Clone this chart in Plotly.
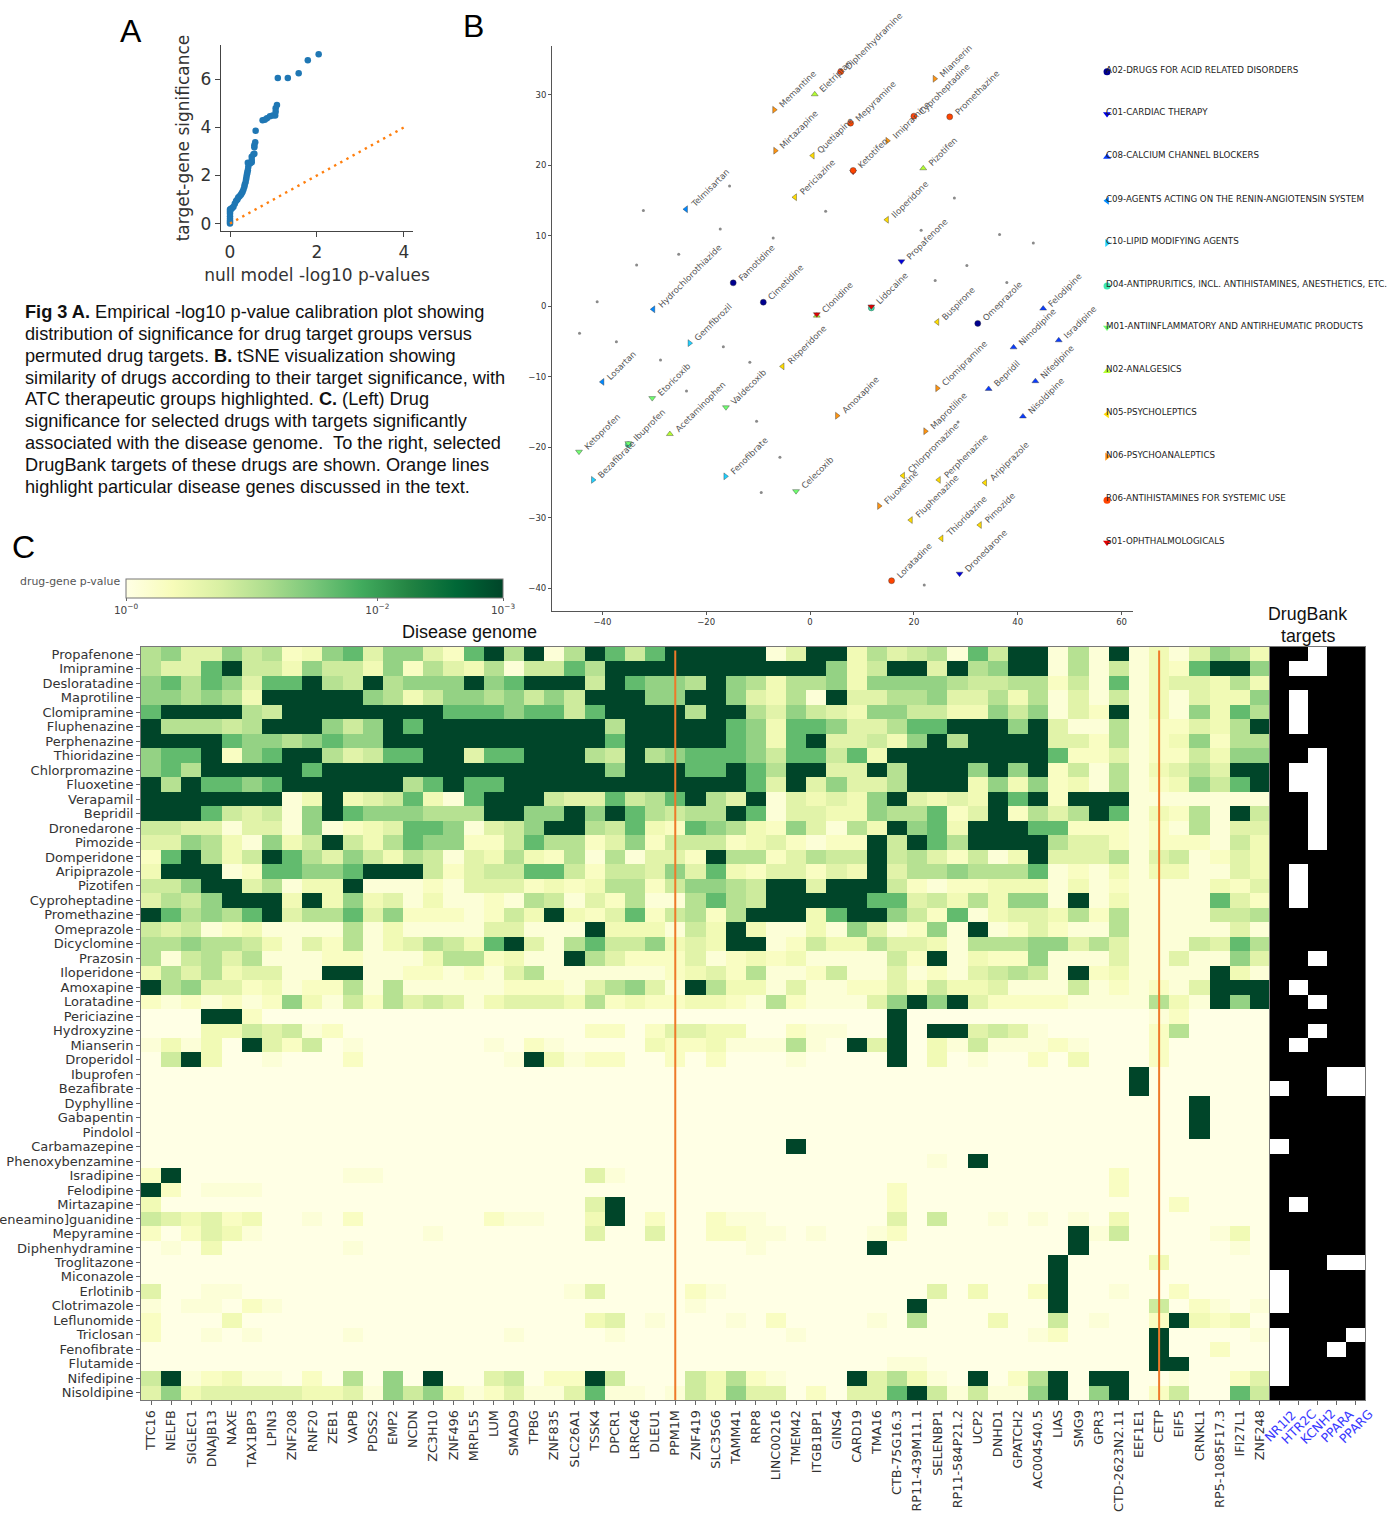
import plotly.graph_objects as go

W, H = 1388, 1516

# ---------- Panel A ----------
A_NULL = [0, 0, 0, 0, 0, 0, 0, 0, 0.015, 0.03, 0.05, 0.08, 0.11, 0.14, 0.17, 0.19, 0.22, 0.25, 0.27, 0.29,
          0.31, 0.33, 0.34, 0.36, 0.37, 0.38, 0.39, 0.40, 0.41, 0.42, 0.41, 0.46, 0.50, 0.50, 0.50, 0.54,
          0.56, 0.56, 0.56, 0.58, 0.59, 0.75, 0.80, 0.85, 0.92, 0.98, 1.04, 1.05, 1.05, 1.08, 1.10,
          1.33, 1.58, 1.79, 2.04]
A_OBS = [0.0, 0.06, 0.12, 0.2, 0.3, 0.42, 0.5, 0.58, 0.6, 0.62, 0.65, 0.7, 0.82, 0.94, 1.0, 1.08, 1.14, 1.2, 1.26, 1.32,
         1.42, 1.53, 1.62, 1.73, 1.84, 1.95, 2.05, 2.12, 2.22, 2.35, 2.53, 2.5, 2.55, 2.64, 2.78, 2.88,
         2.9, 3.17, 3.26, 3.38, 3.86, 4.3, 4.32, 4.38, 4.47, 4.5, 4.5, 4.65, 4.8, 4.93, 6.06,
         6.06, 6.25, 6.8, 7.05]
A_DIAG = [0, 4]

# ---------- Panel B ----------
B_DRUGS = ["Memantine", "Eletriptan", "Diphenhydramine", "Mianserin", "Cyproheptadine", "Promethazine", "Mepyramine",
           "Mirtazapine", "Quetiapine", "Imipramine", "Ketotifen", "Pizotifen", "Periciazine", "Telmisartan",
           "Iloperidone", "Propafenone", "Famotidine", "Hydrochlorothiazide", "Cimetidine", "Clonidine", "Lidocaine",
           "Buspirone", "Omeprazole", "Felodipine", "Gemfibrozil", "Nimodipine", "Isradipine", "Risperidone",
           "Clomipramine", "Losartan", "Bepridil", "Nifedipine", "Etoricoxib", "Valdecoxib", "Amoxapine", "Nisoldipine",
           "Acetaminophen", "Maprotiline", "Ketoprofen", "Ibuprofen", "Bezafibrate", "Fenofibrate", "Chlorpromazine",
           "Perphenazine", "Aripiprazole", "Celecoxib", "Fluoxetine", "Fluphenazine", "Pimozide", "Thioridazine",
           "Loratadine", "Dronedarone"]
B_X = [-6.9, 0.9, 5.9, 24.0, 20.0, 26.9, 7.8, -6.7, 0.5, 14.9, 8.3, 21.8, -2.9, -23.9, 14.8, 17.6, -14.8, -30.2, -9.0,
       1.3, 11.8, 24.5, 32.3, 44.9, -23.2, 39.2, 47.9, -5.3, 24.5, -40.0, 34.4, 43.4, -30.4, -16.2, 5.2, 41.0, -27.0,
       22.2, -44.5, -35.0, -41.8, -16.3, 17.9, 24.8, 33.7, -2.7, 13.3, 19.4, 32.7, 25.3, 15.7, 28.8]
B_Y = [27.9, 30.1, 33.3, 32.3, 27.0, 26.9, 26.0, 22.1, 21.4, 23.5, 19.3, 19.6, 15.5, 13.8, 12.3, 6.4, 3.35, -0.4, 0.6,
       -1.1, 0.0, -2.2, -2.4, -0.3, -5.2, -5.8, -4.8, -8.5, -11.6, -10.7, -11.7, -10.6, -13.0, -14.3, -15.5, -15.6,
       -18.1, -17.7, -20.6, -19.4, -24.6, -24.1, -24.0, -24.6, -25.0, -26.2, -28.3, -30.3, -31.0, -32.9, -38.9, -37.9]
B_CLASS = ["N06", "N02", "R06", "N06", "R06", "R06", "R06", "N06", "N05", "N06", "R06", "N02", "N05", "C09", "N05",
           "C01", "A02", "C09", "A02", "S01", "S01", "N05", "A02", "C08", "C10", "C08", "C08", "N05", "N06", "C09",
           "C08", "C08", "M01", "M01", "N06", "C08", "N02", "N06", "M01", "M01", "C10", "C10", "N05", "N05", "N05",
           "M01", "N06", "N05", "N05", "N05", "R06", "C01"]
B_OTHER_X = [-15.5, -32.1, 3.0, -17.3, -7.1, -25.3, -33.4, 27.8, 21.4, 36.5, 43.0, 30.2, 24.1, 37.9, -41.0, -44.4,
             -37.3, -16.7, -28.8, -11.6, -23.8, -10.3, 28.5, -5.8, -9.4, 22.0]
B_OTHER_Y = [17.1, 13.6, 13.5, 11.0, 9.7, 7.4, 5.9, 15.4, 10.8, 10.2, 9.0, 5.8, 3.7, 3.4, 0.66, -3.8, -5.0, -5.7,
             -7.6, -7.9, -12.0, -16.3, -16.4, -21.4, -26.4, -39.5]
ATC_CODES = ["A02", "C01", "C08", "C09", "C10", "D04", "M01", "N02", "N05", "N06", "R06", "S01"]
ATC_NAMES = ["A02-DRUGS FOR ACID RELATED DISORDERS", "C01-CARDIAC THERAPY", "C08-CALCIUM CHANNEL BLOCKERS",
             "C09-AGENTS ACTING ON THE RENIN-ANGIOTENSIN SYSTEM", "C10-LIPID MODIFYING AGENTS",
             "D04-ANTIPRURITICS, INCL. ANTIHISTAMINES, ANESTHETICS, ETC.",
             "M01-ANTIINFLAMMATORY AND ANTIRHEUMATIC PRODUCTS", "N02-ANALGESICS", "N05-PSYCHOLEPTICS",
             "N06-PSYCHOANALEPTICS", "R06-ANTIHISTAMINES FOR SYSTEMIC USE", "S01-OPHTHALMOLOGICALS"]
ATC_X = [57.2] * 12
ATC_Y = [33.3, 27.3, 21.2, 15.0, 9.0, 2.9, -3.0, -9.2, -15.3, -21.3, -27.5, -33.5]
ATC_COLORS = ["#00008f", "#0000e0", "#0a3cff", "#0088ff", "#1fd0ff", "#3fe8b0", "#70ff70", "#b4ff30", "#ffdc00",
              "#ff9410", "#ff4400", "#e00000"]
ATC_SYMBOLS = ["circle", "triangle-down", "triangle-up", "triangle-left", "triangle-right"] * 2 + ["circle", "triangle-down"]
# drugs drawn twice in the picture (second group under the first)
B_EXTRA_X = [8.3, 1.3, 11.8, -35.0]
B_EXTRA_Y = [19.1, -1.3, -0.2, -19.6]
B_EXTRA_CLASS = ["S01", "N02", "D04", "D04"]

# ---------- Panel C ----------
DRUGS = ["Propafenone", "Imipramine", "Desloratadine", "Maprotiline", "Clomipramine", "Fluphenazine", "Perphenazine",
         "Thioridazine", "Chlorpromazine", "Fluoxetine", "Verapamil", "Bepridil", "Dronedarone", "Pimozide",
         "Domperidone", "Aripiprazole", "Pizotifen", "Cyproheptadine", "Promethazine", "Omeprazole", "Dicyclomine",
         "Prazosin", "Iloperidone", "Amoxapine", "Loratadine", "Periciazine", "Hydroxyzine", "Mianserin", "Droperidol",
         "Ibuprofen", "Bezafibrate", "Dyphylline", "Gabapentin", "Pindolol", "Carbamazepine", "Phenoxybenzamine",
         "Isradipine", "Felodipine", "Mirtazapine", "(2,6-dichlorophenyl)methylideneamino]guanidine", "Mepyramine",
         "Diphenhydramine", "Troglitazone", "Miconazole", "Erlotinib", "Clotrimazole", "Leflunomide", "Triclosan",
         "Fenofibrate", "Flutamide", "Nifedipine", "Nisoldipine"]
GENES = ["TTC16", "NELFB", "SIGLEC1", "DNAJB13", "NAXE", "TAX1BP3", "LPIN3", "ZNF208", "RNF20", "ZEB1", "VAPB", "PDSS2",
         "EMP2", "NCDN", "ZC3H10", "ZNF496", "MRPL55", "LUM", "SMAD9", "TPBG", "ZNF835", "SLC26A1", "TSSK4", "DPCR1",
         "LRRC46", "DLEU1", "PPM1M", "ZNF419", "SLC35G6", "TAMM41", "RRP8", "LINC00216", "TMEM42", "ITGB1BP1", "GINS4",
         "CARD19", "TMA16", "CTB-75G16.3", "RP11-439M11.1", "SELENBP1", "RP11-584P21.2", "UCP2", "DNHD1", "GPATCH2",
         "AC004540.5", "LIAS", "SMG9", "GPR3", "CTD-2623N2.11", "EEF1E1", "CETP", "EIF5", "CRNKL1", "RP5-1085F17.3",
         "IFI27L1", "ZNF248"]
TARGETS = ["NR1I2", "HTR2C", "KCNH2", "PPARA", "PPARG"]
HIGHLIGHT = ["PPM1M", "CETP"]
Z0 = "0" * 28
HEAT_ROWS = [
    "6744756237847742896916985899" + "9991499364561859916191314763",
    "6448955375537264361558699999" + "9999997359949679916151328997",
    "7868748896596777978999598776" + "9763667377776556625181344363",
    "7767639999976357767575999779" + "9743619446674463614151314337",
    "8999965999999998887885899996" + "9964754377553375714291317386",
    "96665699975798" + "999999999" + "69999" + "9873887446889997941161224369",
    "999987767877" + "99999999999" + "89999" + "9873894453796999944261237266",
    "7889278996458899488999659678" + "887588583" + "99999999" + "82241225377",
    "786999998" + "99999999999999" + "79998" + "8986994496999797925161346499",
    "9698878" + "999999" + "68988" + "9999999999" + "9984947446999373723161237589",
    "9999999" + "139345831899954485689" + "6491434379434398929991111111",
    "9998545179877766699779798656" + "6981443376682492646981326195",
    "5544144171234887145799658328" + "7632741639783999882221216144",
    "4476317359536877225866247255" + "5234212295986999964421222153",
    "2896359864753651436326161442" + "9662465595642513944461451243",
    "3999128877899952455885255474" + "8324424394667666812131331143",
    "5579946133911121444232366257" + "7659949995212233313121111324",
    "4657999393734131121651426116" + "8659999988453637719131111842",
    "9867689466847222125393248256" + "2699938997528134436261111556",
    "5451231111613111144111933315" + "3931131741271912421161111141",
    "6676653142613465389416855734" + "3991253364431666774641115486",
    "6156461112211136623119642224" + "1232311115291322711141141174",
    "3646344119911221214611111123" + "4261125114121456519231111931",
    "9674423122616111112221467419" + "6331411224253341115121214999",
    "2121212731526454134443623223" + "3216211147979422221111631979",
    "000992" + "0" * 22 + "000000000" + "9" + "000000000000" + "1" + "2" + "0000",
    "0003354512" + "0" * 12 + "220244" + "3300211009099454100000260000",
    "1313094250100000010210000322" + "3111610949031511121000200000",
    "0593001000200000001931220020" + "2000100009030100203000200000",
    Z0 + "0" * 21 + "9" + "0" * 6,
    Z0 + "0" * 21 + "9" + "0" * 6,
    Z0 + "0" * 24 + "9" + "000",
    Z0 + "0" * 24 + "9" + "000",
    Z0 + "0" * 24 + "9" + "000",
    Z0 + "00009" + "0" * 23,
    Z0 + "0" * 11 + "1" + "0" + "9" + "0" * 14,
    "29" + "00000000" + "11" + "0" * 10 + "41" + "0000" + "0" * 20 + "2" + "0" * 7,
    "920111" + "0" * 22 + "0" * 9 + "2" + "0" * 10 + "2" + "0" * 7,
    "3" + "0" * 21 + "49" + "0000" + "0" * 9 + "2" + "0" * 13 + "2" + "0" * 4,
    "5434230010200000021100390200" + "2110000004050010101030000000",
    "202431" + "00000000" + "1" + "0" * 7 + "4" + "00" + "4" + "00" + "2211" + "0" + "1" + "00" + "1" + "2" + "0" * 8 + "915" + "0000" + "13" + "0",
    "0103" + "000000" + "1" + "0" * 17 + "001" + "00000" + "9" + "0" * 9 + "9" + "0" * 7 + "1" + "0",
    Z0 + "0" * 17 + "9" + "0000" + "3" + "00000",
    Z0 + "0" * 17 + "9" + "0" * 10,
    "40011" + "0" * 16 + "14" + "0000" + "2" + "1" + "0" * 10 + "4" + "0" + "3" + "00" + "29" + "00" + "1" + "00" + "2" + "0000",
    "1011021" + "0" * 20 + "1" + "0" * 10 + "9" + "0" * 6 + "9" + "0000" + "5" + "0" + "21" + "0" + "1",
    "20003" + "0" * 17 + "34" + "0" + "1" + "00" + "0102" + "0000" + "1" + "0" + "6" + "000" + "3" + "00" + "5" + "0" + "1" + "00" + "293230",
    "2001" + "0" + "1" + "0000" + "1" + "0" * 7 + "1" + "0000" + "1" + "0000" + "0000" + "1" + "0" * 11 + "12" + "0000" + "9" + "0000" + "1",
    Z0 + "0" * 22 + "9" + "00" + "2" + "00",
    Z0 + "0" * 9 + "11" + "0" * 11 + "99" + "0" * 4,
    "5912311020607090045022950005" + "3621000946310902690990010024",
    "4734444433417573124114811015" + "3744020448951511790790250085",
]
# -log10(p) for each colour step
P_STEPS = [0.0, 0.12, 0.3, 0.45, 0.65, 0.85, 1.05, 1.3, 1.65, 3.0]
YLGN = [[0, "#ffffe5"], [0.125, "#f7fcb9"], [0.25, "#d9f0a3"], [0.375, "#addd8e"], [0.5, "#78c679"],
        [0.625, "#41ab5d"], [0.75, "#238443"], [0.875, "#006837"], [1, "#004529"]]
# 1 = white cell
TARGET_ROWS = ["00100", "01100", "00000", "01000", "01000", "01000", "00000", "00100", "01100", "01100", "00100",
               "00100", "00100", "00100", "00000", "01000", "01000", "01000", "00000", "00000", "00000", "00100",
               "00000", "01000", "00100", "00000", "00100", "01000", "00000", "00011", "10011", "00000", "00000",
               "00000", "10000", "00000", "00000", "00000", "01000", "00000", "00000", "00000", "00011", "10000",
               "10000", "10000", "00000", "10001", "10010", "10000", "10000", "00000"]

PARAGRAPH = ["<b>Fig 3 A.</b> Empirical -log10 p-value calibration plot showing",
             "distribution of significance for drug target groups versus",
             "permuted drug targets. <b>B.</b> tSNE visualization showing",
             "similarity of drugs according to their target significance, with",
             "ATC therapeutic groups highlighted. <b>C.</b> (Left) Drug",
             "significance for selected drugs with targets significantly",
             "associated with the disease genome.  To the right, selected",
             "DrugBank targets of these drugs are shown. Orange lines",
             "highlight particular disease genes discussed in the text."]


def px(x):
    return x / W


def py(y):
    return 1 - y / H


def xdom(a, b):
    return [px(a), px(b)]


def ydom(top, bottom):
    return [py(bottom), py(top)]


assert all(len(r) == 56 for r in HEAT_ROWS), [i for i, r in enumerate(HEAT_ROWS) if len(r) != 56]
Z = [[P_STEPS[int(c)] for c in r] for r in HEAT_ROWS]
ZT = [[int(c) for c in r] for r in TARGET_ROWS]

fig = go.Figure()
DV = "DejaVu Sans"

# Panel A
fig.add_trace(go.Scatter(x=A_NULL, y=A_OBS, mode="markers", marker=dict(color="#1f77b4", size=6.5),
                         xaxis="x", yaxis="y", showlegend=False))
fig.add_trace(go.Scatter(x=A_DIAG, y=A_DIAG, mode="lines", line=dict(color="#ff7f0e", width=2.4, dash="2.4px,4.6px"),
                         xaxis="x", yaxis="y", showlegend=False))

# Panel B
fig.add_trace(go.Scatter(x=B_OTHER_X, y=B_OTHER_Y, mode="markers", marker=dict(color="#8a8a8a", size=3),
                         xaxis="x2", yaxis="y2", showlegend=False))
style = {c: (col, s) for c, col, s in zip(ATC_CODES, ATC_COLORS, ATC_SYMBOLS)}
edge = dict(color="#333333", width=0.4)
for ex, ey, ec in zip(B_EXTRA_X, B_EXTRA_Y, B_EXTRA_CLASS):
    fig.add_trace(go.Scatter(x=[ex], y=[ey], mode="markers",
                             marker=dict(color=style[ec][0], symbol=style[ec][1], size=6, line=edge),
                             xaxis="x2", yaxis="y2", showlegend=False))
for code in ATC_CODES:
    xs = [x for x, c in zip(B_X, B_CLASS) if c == code]
    ys = [y for y, c in zip(B_Y, B_CLASS) if c == code]
    if xs:
        fig.add_trace(go.Scatter(x=xs, y=ys, mode="markers",
                                 marker=dict(color=style[code][0], symbol=style[code][1], size=6, line=edge),
                                 xaxis="x2", yaxis="y2", showlegend=False))
fig.add_trace(go.Scatter(x=ATC_X, y=ATC_Y, mode="markers",
                         marker=dict(color=ATC_COLORS, symbol=ATC_SYMBOLS, size=7),
                         xaxis="x2", yaxis="y2", showlegend=False))

# Panel C heatmaps
fig.add_trace(go.Heatmap(z=Z, x=GENES, y=DRUGS, xaxis="x3", yaxis="y3", colorscale=YLGN, zmin=0, zmax=3,
                         hoverinfo="skip",
                         colorbar=dict(orientation="h", lenmode="pixels", len=377, thicknessmode="pixels",
                                       thickness=19, x=px(126), xanchor="left", y=py(579), yanchor="top",
                                       xpad=0, ypad=0, tickmode="array", tickvals=[0, 2, 3],
                                       ticktext=["10<sup>\u22120</sup>", "10<sup>\u22122</sup>", "10<sup>\u22123</sup>"],
                                       ticks="outside", ticklen=3, tickcolor="#666", outlinecolor="#777", outlinewidth=1,
                                       tickfont=dict(family=DV, size=10.5, color="#444"))))
fig.add_trace(go.Heatmap(z=ZT, x=TARGETS, y=DRUGS, xaxis="x4", yaxis="y4", colorscale=[[0, "#000000"], [1, "#ffffff"]],
                         zmin=0, zmax=1, showscale=False, hoverinfo="skip"))

ann = []
for name, x, y in zip(B_DRUGS, B_X, B_Y):
    ann.append(dict(text=name, x=x, y=y, xref="x2", yref="y2", showarrow=False, textangle=-45, xanchor="left",
                    yanchor="bottom", xshift=3, yshift=0, font=dict(family=DV, size=8.5, color="#555"),
                    borderpad=0, borderwidth=0))
for name, x, y in zip(ATC_NAMES, ATC_X, ATC_Y):
    ann.append(dict(text=name, x=x, y=y, xref="x2", yref="y2", showarrow=False, xanchor="left", yanchor="middle",
                    xshift=-2, yshift=2, font=dict(family=DV, size=8.7, color="#222"), borderpad=0))
for i, line in enumerate(PARAGRAPH):
    ann.append(dict(text=line, x=px(24), y=py(312 + i * 21.85), xref="paper", yref="paper", showarrow=False,
                    xanchor="left", yanchor="middle", font=dict(family="Liberation Sans", size=18.2, color="#111"),
                    borderpad=0))
for t, xx, yy in [("A", 131, 31), ("B", 473, 26), ("C", 23, 547)]:
    ann.append(dict(text=t, x=px(xx), y=py(yy), xref="paper", yref="paper", showarrow=False, xanchor="center",
                    yanchor="middle", font=dict(family="Liberation Sans", size=32, color="#000")))
ann.append(dict(text="drug-gene p-value", x=px(121.5), y=py(582), xref="paper", yref="paper", showarrow=False,
                xanchor="right", yanchor="middle", font=dict(family=DV, size=10.9, color="#555")))
ann.append(dict(text="Disease genome", x=px(469.5), y=py(632), xref="paper", yref="paper", showarrow=False,
                xanchor="center", yanchor="middle", font=dict(family="Liberation Sans", size=18, color="#111")))
ann.append(dict(text="DrugBank", x=px(1307.5), y=py(614), xref="paper", yref="paper", showarrow=False,
                xanchor="center", yanchor="middle", font=dict(family="Liberation Sans", size=17.8, color="#111")))
ann.append(dict(text="targets", x=px(1307.5), y=py(636), xref="paper", yref="paper", showarrow=False,
                xanchor="center", yanchor="middle", font=dict(family="Liberation Sans", size=17.8, color="#111")))
for t in TARGETS:
    ann.append(dict(text=t, x=t, y=py(1426), xref="x4", yref="paper", showarrow=False, textangle=-45,
                    xanchor="center", yanchor="middle", font=dict(family=DV, size=12.5, color="#3a3aff")))

shapes = [dict(type="line", xref="x3", yref="y3", x0=GENES.index(g), x1=GENES.index(g), y0=-0.25, y1=51.5,
               line=dict(color="#ee7a2a", width=2)) for g in HIGHLIGHT]

tick_a = dict(family=DV, size=17, color="#333")
axis_c = dict(showgrid=False, zeroline=False, ticks="outside", ticklen=4, tickcolor="#666", showline=True,
              linecolor="#777", linewidth=1, mirror=True)
axis_b = dict(showgrid=False, zeroline=False, ticks="outside", ticklen=3, tickcolor="#555", showline=True,
              linecolor="#555", linewidth=1, tickfont=dict(family=DV, size=8.5, color="#333"))

fig.update_layout(
    width=W, height=H, autosize=False, margin=dict(l=0, r=0, t=0, b=0), template="none",
    paper_bgcolor="white", plot_bgcolor="white", showlegend=False, annotations=ann, shapes=shapes,
    xaxis=dict(domain=xdom(221, 413), range=[-0.207, 4.21], anchor="y", tickvals=[0, 2, 4], showgrid=False,
               zeroline=False, showline=True, linecolor="#444", linewidth=1.3, ticks="outside", ticklen=5,
               tickcolor="#444", tickfont=tick_a,
               title=dict(text="null model -log10 p-values", font=dict(family=DV, size=17, color="#333"), standoff=8)),
    yaxis=dict(domain=ydom(45, 231), range=[-0.31, 7.43], anchor="x", tickvals=[0, 2, 4, 6], showgrid=False,
               zeroline=False, showline=True, linecolor="#444", linewidth=1.3, ticks="outside", ticklen=5,
               tickcolor="#444", tickfont=tick_a,
               title=dict(text="target-gene significance", font=dict(family=DV, size=17, color="#333"), standoff=6)),
    xaxis2=dict(domain=xdom(552, 1133), range=[-49.7, 62.2], anchor="y2", tickvals=[-40, -20, 0, 20, 40, 60],
                ticktext=["\u221240", "\u221220", "0", "20", "40", "60"], **axis_b),
    yaxis2=dict(domain=ydom(46, 611), range=[-43.2, 36.95], anchor="x2", tickvals=[-40, -30, -20, -10, 0, 10, 20, 30],
                ticktext=["\u221240", "\u221230", "\u221220", "\u221210", "0", "10", "20", "30"], **axis_b),
    xaxis3=dict(domain=xdom(141, 1270), anchor="y3", type="category", range=[-0.5, 55.5], tickmode="array",
                tickvals=GENES, ticktext=GENES, tickangle=-90, tickfont=dict(family=DV, size=12.8, color="#333"), **axis_c),
    yaxis3=dict(domain=ydom(647, 1400), anchor="x3", type="category", range=[51.5, -0.5], tickmode="array",
                tickvals=DRUGS, ticktext=DRUGS, tickfont=dict(family=DV, size=13, color="#333"), **axis_c),
    xaxis4=dict(domain=xdom(1270, 1365), anchor="y4", type="category", range=[-0.5, 4.5], tickmode="array",
                tickvals=TARGETS, showticklabels=False, **axis_c),
    yaxis4=dict(domain=ydom(647, 1400), anchor="x4", type="category", range=[51.5, -0.5], showticklabels=False,
                ticks="", showgrid=False, zeroline=False, showline=True, linecolor="#777", linewidth=1, mirror=True),
)

fig.write_html("out.html", config={"displayModeBar": False},
               post_script="document.body.style.margin='0';document.body.style.overflow='hidden';")
